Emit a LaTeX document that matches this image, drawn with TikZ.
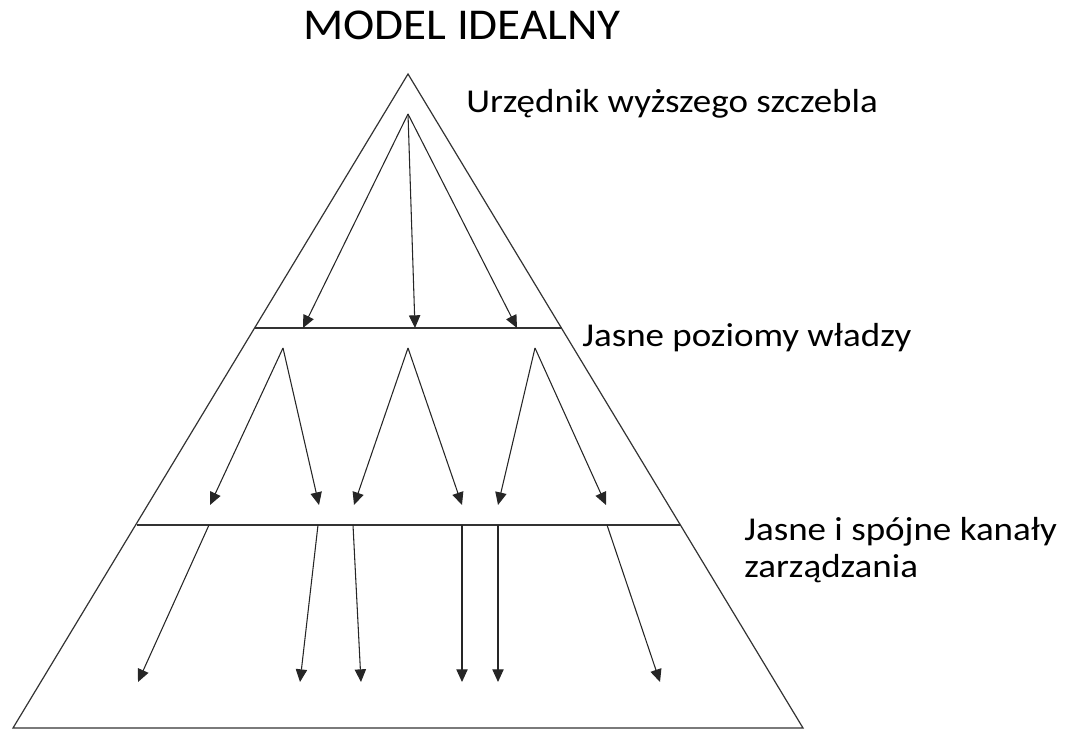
\documentclass[tikz,border=0pt]{standalone}
\usepackage{fontspec}
\usepackage{graphicx}
\setmainfont{Carlito}
\usetikzlibrary{arrows.meta}
\newcommand{\wide}[2]{\scalebox{#1}[1]{#2}}
\begin{document}
\begin{tikzpicture}[x=0.75pt,y=-0.75pt,
  frame/.style={draw=black!80, line width=0.9pt},
  chan/.style={draw=black!85, line width=0.8pt, -{Triangle[length=9.5pt,width=8.5pt]}},
  lbl/.style={anchor=base west, inner sep=0pt, font=\fontsize{25}{27.75}\selectfont},
  ttl/.style={anchor=base west, inner sep=0pt, font=\fontsize{33}{36}\selectfont}]
\useasboundingbox (0,0) rectangle (1066,730);
% pyramid
\coordinate (apex) at (408,74);
\coordinate (bl) at (13,728);
\coordinate (br) at (803,728);
\coordinate (l1l) at (255,328);
\coordinate (l1r) at (562,328);
\coordinate (l2l) at (137,525);
\coordinate (l2r) at (680,525);
\draw[frame] (apex) -- (br) -- (bl) -- cycle;
\draw[frame] (l1l) -- (l1r);
\draw[frame] (l2l) -- (l2r);
% top level
\coordinate (s0) at (408,114);
\coordinate (t1) at (303,328);
\coordinate (t2) at (415,328);
\coordinate (t3) at (517,328);
\draw[chan] (s0) -- (t1);
\draw[chan] (s0) -- (t2);
\draw[chan] (s0) -- (t3);
% middle level
\coordinate (m1) at (283,348);
\coordinate (m2) at (408,348);
\coordinate (m3) at (535,348);
\coordinate (u1) at (210,505);
\coordinate (u2) at (319,505);
\coordinate (u3) at (354,505);
\coordinate (u4) at (462,505);
\coordinate (u5) at (498,505);
\coordinate (u6) at (606,505);
\draw[chan] (m1) -- (u1);
\draw[chan] (m1) -- (u2);
\draw[chan] (m2) -- (u3);
\draw[chan] (m2) -- (u4);
\draw[chan] (m3) -- (u5);
\draw[chan] (m3) -- (u6);
% bottom level
\coordinate (b1) at (209,525);
\coordinate (b2) at (318,525);
\coordinate (b3) at (353,525);
\coordinate (b4) at (462,525);
\coordinate (b5) at (498,525);
\coordinate (b6) at (607,525);
\coordinate (e1) at (138,682);
\coordinate (e2) at (300,682);
\coordinate (e3) at (361,682);
\coordinate (e4) at (462,682);
\coordinate (e5) at (498,682);
\coordinate (e6) at (660,682);
\draw[chan] (b1) -- (e1);
\draw[chan] (b2) -- (e2);
\draw[chan] (b3) -- (e3);
\draw[chan] (b4) -- (e4);
\draw[chan] (b5) -- (e5);
\draw[chan] (b6) -- (e6);
% texts
\node[ttl] (title) at (303,40) {\wide{1.07}{MODEL IDEALNY}};
\node[lbl] (top) at (466,113) {\wide{1.11}{Urzędnik wyższego szczebla}};
\node[lbl] (mid) at (582,347) {\wide{1.11}{Jasne poziomy władzy}};
\node[lbl, align=left] (bot) at (744,577) {\wide{1.11}{Jasne i spójne kanały}\\\wide{1.11}{zarządzania}};
\end{tikzpicture}
\end{document}
